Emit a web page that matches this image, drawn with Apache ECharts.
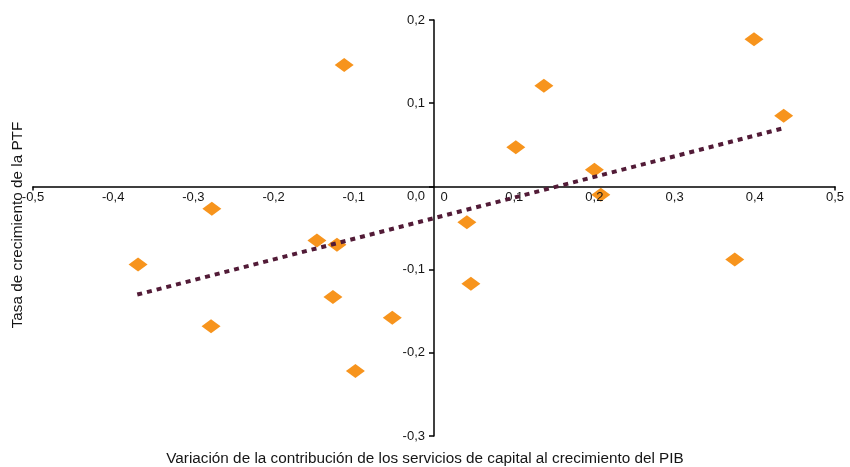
<!DOCTYPE html>
<html>
<head>
<meta charset="utf-8">
<script src="https://cdn.jsdelivr.net/npm/echarts@6/dist/echarts.min.js"></script>
<style>
html,body{margin:0;padding:0;background:#fff;}
#chart{width:850px;height:467px;}
</style>
</head>
<body>
<div id="chart"></div>
<script>
// Data
var capitalContribChange = [-0.112, -0.277, 0.137, 0.102, 0.200, 0.208, 0.399, 0.436, 0.375, 0.041, 0.046, -0.369, -0.146, -0.121, -0.126, -0.052, -0.278, -0.098];
var tfpGrowth            = [ 0.146, -0.027, 0.121, 0.047, 0.020, -0.010, 0.177, 0.085, -0.088, -0.043, -0.117, -0.094, -0.065, -0.070, -0.133, -0.158, -0.168, -0.222];
var trendX = [-0.370, 0.436];
var trendY = [-0.130, 0.070];
var xTickEnds = [-0.5, 0.5];
var xTitle = 'Variación de la contribución de los servicios de capital al crecimiento del PIB';
var yTitle = 'Tasa de crecimiento de la PTF';

var scatterData = capitalContribChange.map(function (x, i) { return [x, tfpGrowth[i]]; });
var trendData = trendX.map(function (x, i) { return [x, trendY[i]]; });

function fmt(v) { return v.toFixed(1).replace('.', ','); }
var FONT = 'Liberation Sans, Arial, sans-serif';
var TXT = '#151515';

var X_MIN = -0.5, X_MAX = 0.5, Y_MIN = -0.3, Y_MAX = 0.2;
var GRID = { left: 33, right: 15, top: 20, bottom: 31 };
var W = 850, H = 467;
var gridW = W - GRID.left - GRID.right, gridH = H - GRID.top - GRID.bottom;
// place the axes so that they cross at zero
var xAxisOffset = -gridH * (0 - Y_MIN) / (Y_MAX - Y_MIN);
var yAxisOffset = -gridW * (0 - X_MIN) / (X_MAX - X_MIN);

var chart = echarts.init(document.getElementById('chart'), null, { renderer: 'canvas' });
chart.setOption({
  animation: false,
  backgroundColor: '#ffffff',
  grid: { left: GRID.left, right: GRID.right, top: GRID.top, bottom: GRID.bottom, containLabel: false },
  xAxis: {
    type: 'value', min: X_MIN, max: X_MAX, interval: 0.1, position: 'bottom', offset: xAxisOffset, z: 2.5,
    axisLine: { onZero: false, lineStyle: { color: '#000', width: 1.5 } },
    axisTick: { show: true, customValues: xTickEnds, length: 4, lineStyle: { color: '#000', width: 1.5 } },
    splitLine: { show: false },
    axisLabel: {
      margin: 5, color: TXT, fontSize: 13, fontFamily: FONT,
      formatter: function (v) { return Math.abs(v) < 1e-9 ? '{z|0}' : fmt(v); },
      rich: { z: { padding: [0, 0, 0, 20], fontSize: 13, fontFamily: FONT, color: TXT } }
    }
  },
  yAxis: {
    type: 'value', min: Y_MIN, max: Y_MAX, interval: 0.1, position: 'left', offset: yAxisOffset, z: 2.5,
    axisLine: { onZero: false, lineStyle: { color: '#000', width: 1.5 } },
    axisTick: { show: true, length: 5, lineStyle: { color: '#000', width: 1.5 } },
    splitLine: { show: false },
    axisLabel: {
      margin: 9, color: TXT, fontSize: 13, fontFamily: FONT,
      formatter: function (v) { return Math.abs(v) < 1e-9 ? '{z|0,0}' : fmt(v); },
      rich: { z: { padding: [20, 0, 0, 0], fontSize: 13, fontFamily: FONT, color: TXT } }
    }
  },
  graphic: [
    { type: 'text', left: 'center', top: 451,
      style: { text: xTitle, fontSize: 15.3, fontFamily: FONT, fill: TXT } },
    { type: 'text', x: 18, y: 225, rotation: Math.PI / 2,
      style: { text: yTitle, fontSize: 15.3, fontFamily: FONT, fill: TXT, align: 'center', verticalAlign: 'middle' } }
  ],
  series: [
    {
      type: 'scatter', data: scatterData, symbol: 'diamond', symbolSize: [19, 14],
      itemStyle: { color: '#F7941D', opacity: 1 }, z: 2
    },
    {
      type: 'line', data: trendData, showSymbol: false, symbol: 'none',
      lineStyle: { color: '#521B37', width: 4, type: [5, 5] }, z: 3
    }
  ]
});
</script>
</body>
</html>
